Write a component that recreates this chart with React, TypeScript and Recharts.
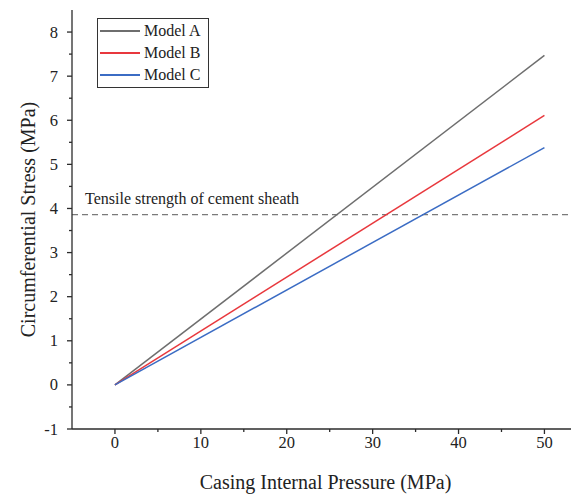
import React from "react";
import { LineChart, Line, XAxis, YAxis, ReferenceLine } from "recharts";

const pressure = [0, 50];
const modelA = [0, 7.47];
const modelB = [0, 6.11];
const modelC = [0, 5.38];
const seriesNames = ["Model A", "Model B", "Model C"];
const seriesColors = ["#6e6e6e", "#e8383d", "#3b6cc4"];
const tensileStrength = 3.86;
const tensileLabel = "Tensile strength of cement sheath";
const xTicks = [-5, 0, 5, 10, 15, 20, 25, 30, 35, 40, 45, 50, 55];
const xLabels = [0, 10, 20, 30, 40, 50];
const yTicks = [-1, -0.5, 0, 0.5, 1, 1.5, 2, 2.5, 3, 3.5, 4, 4.5, 5, 5.5, 6, 6.5, 7, 7.5, 8];
const yLabels = [-1, 0, 1, 2, 3, 4, 5, 6, 7, 8];

const data = pressure.map((p, i) => ({ p, a: modelA[i], b: modelB[i], c: modelC[i] }));

const FONT = "'Liberation Serif', 'Times New Roman', serif";
const AXIS = "#2b2b2b";

const XTick = (props: any) => {
  const { x, y, payload } = props;
  const v = payload.value;
  const major = xLabels.includes(v);
  if (v === -5) return <g />;
  return (
    <g>
      <line x1={x} x2={x} y1={y} y2={y + (major ? 5 : 3)} stroke={AXIS} strokeWidth={1.3} />
      {major && (
        <text x={x} y={y + 19} textAnchor="middle" fontFamily={FONT} fontSize={16.5} fill="#222">
          {v}
        </text>
      )}
    </g>
  );
};

const YTick = (props: any) => {
  const { x, y, payload } = props;
  const v = payload.value;
  const major = yLabels.includes(v);
  return (
    <g>
      <line x1={x} x2={x - (major ? 5 : 3)} y1={y} y2={y} stroke={AXIS} strokeWidth={1.3} />
      {major && (
        <text x={x - 14} y={y + 5.5} textAnchor="end" fontFamily={FONT} fontSize={16.5} fill="#222">
          {v}
        </text>
      )}
    </g>
  );
};

const LegendBox = () => (
  <div
    style={{
      position: "absolute",
      left: 89,
      top: 10,
      border: "1px solid #333",
      background: "#fff",
      width: 112,
      height: 70,
      boxSizing: "border-box",
      paddingTop: 1,
      fontFamily: FONT,
      fontSize: 16,
      color: "#222",
    }}
  >
    {seriesNames.map((n, i) => (
      <div key={n} style={{ display: "flex", alignItems: "center", height: 22 }}>
        <div style={{ width: 40, height: 1.5, background: seriesColors[i], marginLeft: 2, marginRight: 4 }} />
        <span>{n}</span>
      </div>
    ))}
  </div>
);

export default function App() {
  return (
    <div style={{ position: "relative", width: 571, height: 490, overflow: "hidden" }}>
      <style>{"html,body{overflow:hidden}"}</style>
      <LineChart
        width={600}
        height={490}
        data={data}
        margin={{ top: 2, right: 0, left: 0, bottom: 0 }}
        style={{ fontFamily: FONT }}
      >
        <XAxis
          dataKey="p"
          type="number"
          domain={[-5, 57.4]}
          ticks={xTicks}
          interval={0}
          tickSize={0}
          tickMargin={0}
          tickLine={false}
          tick={<XTick />}
          height={69}
          stroke={AXIS}
          strokeWidth={1.3}
          allowDataOverflow
        />
        <YAxis
          type="number"
          domain={[-1, 8.5]}
          ticks={yTicks}
          interval={0}
          tickSize={0}
          tickMargin={0}
          tickLine={false}
          tick={<YTick />}
          width={64}
          stroke={AXIS}
          strokeWidth={1.3}
          allowDataOverflow
          label={{
            value: "Circumferential Stress (MPa)",
            angle: -90,
            position: "insideLeft",
            offset: 20,
            style: { fontFamily: FONT, fontSize: 20, fill: "#222", textAnchor: "middle" },
          }}
        />
        <ReferenceLine
          y={tensileStrength}
          stroke="#7a7a7a"
          strokeWidth={1.2}
          strokeDasharray="6 4"
          label={(p: any) => (
            <text
              x={p.viewBox.x + 13}
              y={p.viewBox.y - 11}
              fontFamily={FONT}
              fontSize={16}
              fill="#222"
            >
              {tensileLabel}
            </text>
          )}
        />
        <Line type="linear" dataKey="a" name={seriesNames[0]} stroke={seriesColors[0]} strokeWidth={1.5} dot={false} isAnimationActive={false} />
        <Line type="linear" dataKey="b" name={seriesNames[1]} stroke={seriesColors[1]} strokeWidth={1.5} dot={false} isAnimationActive={false} />
        <Line type="linear" dataKey="c" name={seriesNames[2]} stroke={seriesColors[2]} strokeWidth={1.5} dot={false} isAnimationActive={false} />
      </LineChart>
      <div
        style={{
          position: "absolute",
          left: 64,
          width: 507,
          top: 463,
          textAlign: "center",
          fontFamily: FONT,
          fontSize: 20,
          color: "#222",
        }}
      >
        Casing Internal Pressure (MPa)
      </div>
      <LegendBox />
    </div>
  );
}
